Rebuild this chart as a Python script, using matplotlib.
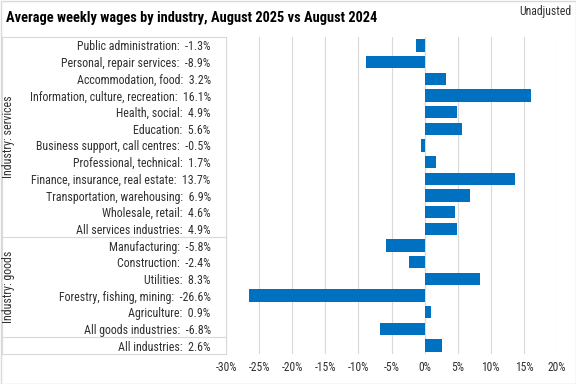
import matplotlib

matplotlib.use("Agg")
import matplotlib.pyplot as plt
import matplotlib.transforms as mtransforms
from matplotlib.lines import Line2D
from matplotlib.patches import Rectangle
import numpy as np

plt.rcParams["font.family"] = ["Roboto Condensed", "DejaVu Sans"]

industries = [
    "Public administration",
    "Personal, repair services",
    "Accommodation, food",
    "Information, culture, recreation",
    "Health, social",
    "Education",
    "Business support, call centres",
    "Professional, technical",
    "Finance, insurance, real estate",
    "Transportation, warehousing",
    "Wholesale, retail",
    "All services industries",
    "Manufacturing",
    "Construction",
    "Utilities",
    "Forestry, fishing, mining",
    "Agriculture",
    "All goods industries",
    "All industries",
]
change_pct = [
    -1.3, -8.9, 3.2, 16.1, 4.9, 5.6, -0.5, 1.7, 13.7, 6.9, 4.6, 4.9,
    -5.8, -2.4, 8.3, -26.6, 0.9, -6.8, 2.6,
]
groups = [("Industry: services", 0, 11), ("Industry: goods", 12, 17)]
x_ticks = [-30, -25, -20, -15, -10, -5, 0, 5, 10, 15, 20]

bar_color = "#0070C0"
grid_color = "#D9D9D9"
text_color = "#303030"

fig = plt.figure(figsize=(5.76, 3.84), dpi=100)
W, H = 576, 384
ax = fig.add_axes([226 / W, 1 - 354 / H, 331 / W, 317 / H])

n = len(industries)
y = np.arange(n)
ax.barh(y, change_pct, height=0.74, color=bar_color, zorder=3)
ax.set_ylim(n - 0.5, -0.5)
ax.set_xlim(-30, 20)
ax.set_xticks(x_ticks)
ax.set_xticklabels([f"{t}%" for t in x_ticks], fontsize=8.3, color=text_color)
ax.tick_params(axis="x", length=0, pad=5)
ax.grid(axis="x", color=grid_color, linewidth=0.8, zorder=0)
for spine in ax.spines.values():
    spine.set_visible(False)

labels = [f"{name}:  {val:.1f}%" for name, val in zip(industries, change_pct)]
ax.set_yticks(y)
ax.set_yticklabels(labels, fontsize=8.6, color=text_color)
ax.tick_params(axis="y", length=0, pad=11)

# table box on the left
blend = mtransforms.blended_transform_factory(fig.transFigure, ax.transData)
x0, x1 = 2 / W, 226 / W
for yy in [-0.5, 11.5, 17.5, n - 0.5]:
    fig.add_artist(Line2D([x0, x1], [yy, yy], transform=blend,
                          color=grid_color, linewidth=0.8))
for xx in [x0, x1]:
    fig.add_artist(Line2D([xx, xx], [-0.5, n - 0.5], transform=blend,
                          color=grid_color, linewidth=0.8))
for name, start, end in groups:
    fig.text(9 / W, (start + end) / 2, name, transform=blend, rotation=90,
             ha="center", va="center", fontsize=8.6, color=text_color)

fig.text(6 / W, 1 - 18 / H, "Average weekly wages by industry, August 2025 vs August 2024",
         fontsize=10.4, fontweight="bold", color="black", va="center", ha="left")
fig.text(571 / W, 1 - 12 / H, "Unadjusted", fontsize=8.5, color=text_color,
         va="center", ha="right")

fig.add_artist(Rectangle((0.5 / W, 0.5 / H), 1 - 1 / W, 1 - 1 / H,
                         transform=fig.transFigure, fill=False,
                         edgecolor=grid_color, linewidth=1))

fig.savefig("out.png", dpi=100)
